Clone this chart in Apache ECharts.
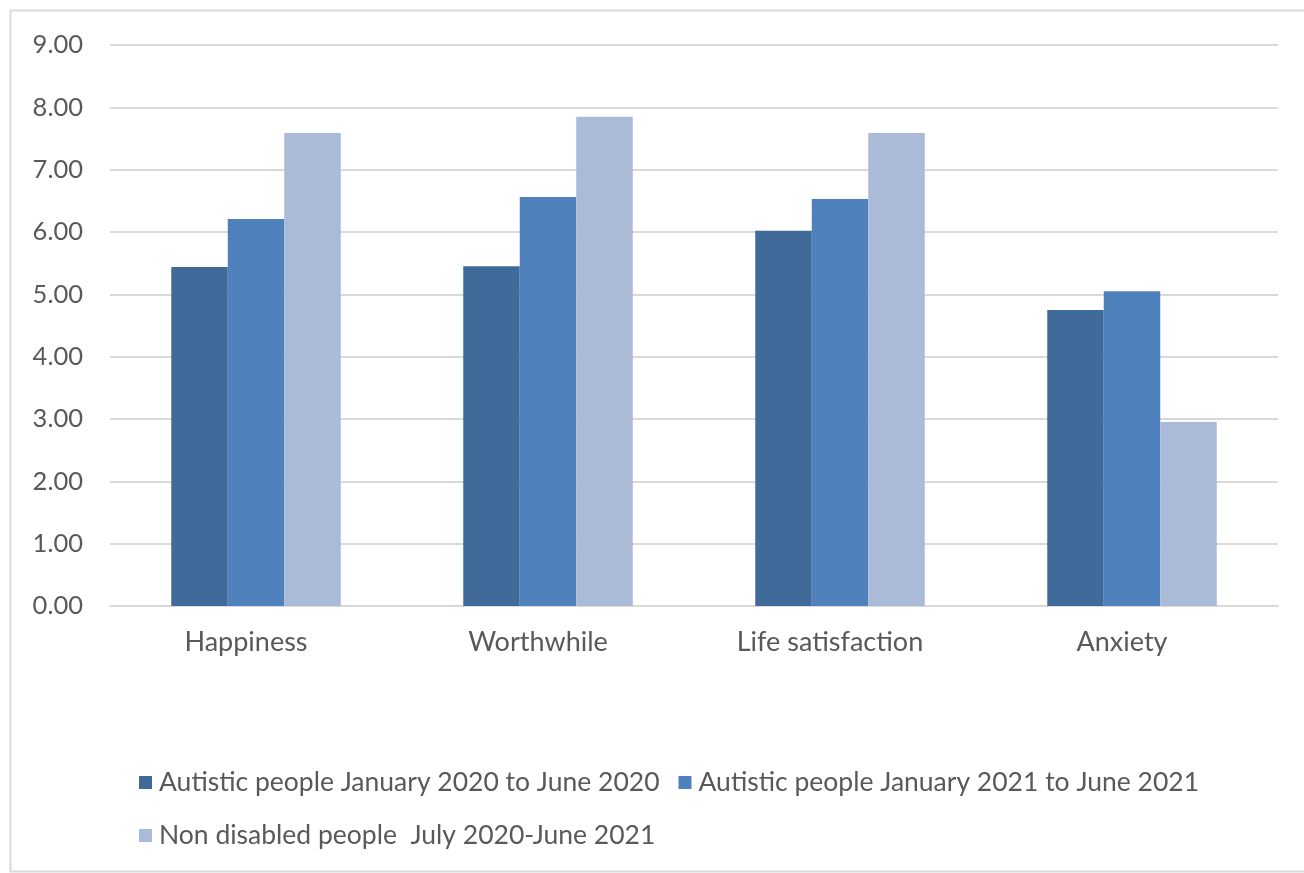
<!DOCTYPE html>
<html>
<head>
<meta charset="utf-8">
<script src="https://cdn.jsdelivr.net/npm/echarts@6/dist/echarts.min.js"></script>
<style>
html,body{margin:0;padding:0;background:#fff;}
#chart{width:1304px;height:873px;}
</style>
</head>
<body>
<div id="chart"></div>
<script>
var categories = ['Happiness', 'Worthwhile', 'Life satisfaction', 'Anxiety'];
var seriesNames = ['Autistic people January 2020 to June 2020', 'Autistic people January 2021 to June 2021', 'Non disabled people  July 2020-June 2021'];
var autistic2020 = [5.44, 5.45, 6.02, 4.75];
var autistic2021 = [6.21, 6.56, 6.53, 5.05];
var nonDisabled = [7.59, 7.85, 7.59, 2.95];
var colors = ['#3F6A9A', '#4F81BD', '#AABAD7'];
var font = 'Lato, "Open Sans", sans-serif';

var chart = echarts.init(document.getElementById('chart'));
var values = [autistic2020, autistic2021, nonDisabled];
chart.setOption({
  animation: false,
  graphic: [{
    type: 'rect',
    shape: {x: 10.5, y: 10.5, width: 1310, height: 861},
    style: {fill: 'none', stroke: '#d9d9d9', lineWidth: 2},
    silent: true
  }],
  grid: {left: 110, right: 26, top: 45, bottom: 267, containLabel: false},
  legend: [{
    data: [seriesNames[0], seriesNames[1]],
    left: 134, top: 764,
    itemWidth: 13, itemHeight: 13, itemGap: 19,
    icon: 'rect',
    textStyle: {fontFamily: font, fontSize: 26.5, color: '#595959', padding: [0,0,0,2]}
  }, {
    data: [seriesNames[2]],
    left: 134, top: 817,
    itemWidth: 13, itemHeight: 13,
    icon: 'rect',
    textStyle: {fontFamily: font, fontSize: 26.5, color: '#595959', padding: [0,0,0,2]}
  }],
  xAxis: {
    type: 'category',
    data: categories,
    axisLine: {lineStyle: {color: '#d9d9d9', width: 2}},
    axisTick: {show: false},
    axisLabel: {fontFamily: font, fontSize: 27, color: '#595959', margin: 23, padding: [0, 20, 0, 0]}
  },
  yAxis: {
    type: 'value',
    min: 0, max: 9, interval: 1,
    axisLine: {show: false},
    axisTick: {show: false},
    splitLine: {lineStyle: {color: '#d9d9d9', width: 2}},
    axisLabel: {fontFamily: font, fontSize: 25.5, color: '#595959', margin: 27,
      formatter: function (v) { return v.toFixed(2); }}
  },
  series: values.map(function (d, i) {
    return {
      name: seriesNames[i],
      type: 'bar',
      data: d,
      barWidth: 56.5,
      barGap: '0%',
      itemStyle: {color: colors[i]}
    };
  })
});
</script>
</body>
</html>
